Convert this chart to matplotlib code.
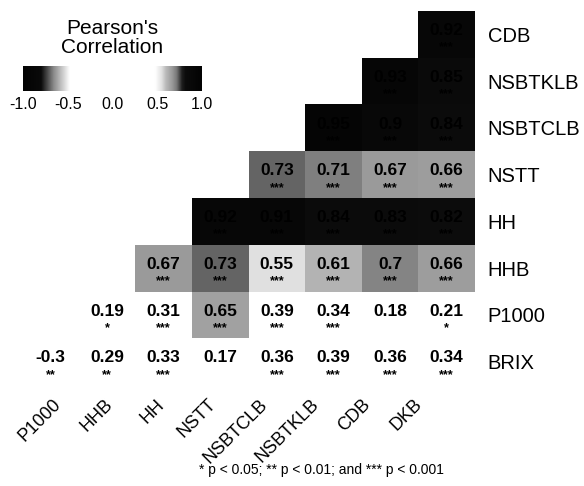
import numpy as np
import matplotlib
matplotlib.use("Agg")
import matplotlib.pyplot as plt
from matplotlib.colors import LinearSegmentedColormap, Normalize
from matplotlib.transforms import ScaledTranslation

plt.rcParams['font.family'] = ['Liberation Sans', 'DejaVu Sans']

# column / row variables of the triangle
cols = ["P1000", "HHB", "HH", "NSTT", "NSBTCLB", "NSBTKLB", "CDB", "DKB"]
rows = ["CDB", "NSBTKLB", "NSBTCLB", "NSTT", "HH", "HHB", "P1000", "BRIX"]

# correlations per row (only the filled cells, left to right)
r_cdb = [0.92]
r_nsbtklb = [0.93, 0.85]
r_nsbtclb = [0.95, 0.90, 0.84]
r_nstt = [0.73, 0.71, 0.67, 0.66]
r_hh = [0.92, 0.91, 0.84, 0.83, 0.82]
r_hhb = [0.67, 0.73, 0.55, 0.61, 0.70, 0.66]
r_p1000 = [0.19, 0.31, 0.65, 0.39, 0.34, 0.18, 0.21]
r_brix = [-0.30, 0.29, 0.33, 0.17, 0.36, 0.39, 0.36, 0.34]

# significance stars per row
s_cdb = ["***"]
s_nsbtklb = ["***", "***"]
s_nsbtclb = ["***", "***", "***"]
s_nstt = ["***", "***", "***", "***"]
s_hh = ["***", "***", "***", "***", "***"]
s_hhb = ["***", "***", "***", "***", "***", "***"]
s_p1000 = ["*", "***", "***", "***", "***", "", "*"]
s_brix = ["**", "**", "***", "", "***", "***", "***", "***"]

vals = [r_cdb, r_nsbtklb, r_nsbtclb, r_nstt, r_hh, r_hhb, r_p1000, r_brix]
stars = [s_cdb, s_nsbtklb, s_nsbtclb, s_nstt, s_hh, s_hhb, s_p1000, s_brix]

n = len(cols)
M = np.full((n, n), np.nan)
S = [["" for _ in range(n)] for _ in range(n)]
for i in range(n):
    start = n - len(vals[i])
    for k, v in enumerate(vals[i]):
        M[i, start + k] = v
        S[i][start + k] = stars[i][k]

# grey scale: white around zero, dark at both ends
nodes = [(-1.0, "#030303"), (-0.8, "#0a0a0a"), (-0.66, "#8a8a8a"), (-0.48, "#ffffff"),
         (0.48, "#ffffff"), (0.55, "#e2e2e2"), (0.6, "#bababa"), (0.67, "#9a9a9a"),
         (0.72, "#787878"), (0.78, "#1e1e1e"), (0.82, "#0c0c0c"), (1.0, "#030303")]
cmap = LinearSegmentedColormap.from_list("grey_div", [((p + 1) / 2, c) for p, c in nodes])
norm = Normalize(-1, 1)

fig = plt.figure(figsize=(5.84, 4.86), dpi=100)
W, H = 584, 486
ax = fig.add_axes([22 / W, 1 - 385 / H, 453 / W, 374 / H])
ax.pcolormesh(np.arange(n + 1), np.arange(n + 1), np.ma.masked_invalid(M),
              cmap=cmap, norm=norm, edgecolors="none")
ax.set_xlim(0, n)
ax.set_ylim(n, 0)

for i in range(n):
    for j in range(n):
        if np.isnan(M[i, j]):
            continue
        v = round(M[i, j], 2)
        ax.text(j + 0.5, i + 0.42, f"{v:g}", ha="center", va="center",
                fontsize=12.5, fontweight="bold", color="black")
        if S[i][j]:
            ax.text(j + 0.5, i + 0.78, S[i][j], ha="center", va="center",
                    fontsize=9, fontweight="bold", color="black")

for s in ax.spines.values():
    s.set_visible(False)
ax.set_yticks(np.arange(n) + 0.5)
ax.set_yticklabels(rows, fontsize=14.5)
ax.yaxis.tick_right()
ax.set_xticks(np.arange(n) + 0.5)
ax.set_xticklabels(cols, fontsize=13, rotation=45, ha="right", rotation_mode="anchor")
ax.tick_params(length=0)
ax.tick_params(axis="y", pad=9)
ax.tick_params(axis="x", pad=8)
# labels in the original drift left across the axis
for j, lab in enumerate(ax.get_xticklabels()):
    off = ScaledTranslation((2 - 5 * j) / 100, 0, fig.dpi_scale_trans)
    lab.set_transform(lab.get_transform() + off)

# legend colour bar
cax = fig.add_axes([23 / W, 1 - 91 / H, 179 / W, 25 / H])
grad = np.linspace(-1, 1, 256).reshape(1, -1)
cax.imshow(grad, aspect="auto", cmap=cmap, norm=norm, extent=[-1, 1, 0, 1])
cax.set_yticks([])
cax.set_xticks([-1, -0.5, 0, 0.5, 1])
cax.set_xticklabels(["-1.0", "-0.5", "0.0", "0.5", "1.0"], fontsize=11.5)
cax.tick_params(length=0, pad=4)
for s in cax.spines.values():
    s.set_visible(False)
fig.text(112 / W, 1 - 38 / H, "Pearson's\nCorrelation", ha="center", va="center",
         fontsize=15, linespacing=1.05)

fig.text(321 / W, 1 - 470 / H, "* p < 0.05; ** p < 0.01; and *** p < 0.001",
         ha="center", va="center", fontsize=10)

fig.savefig("out.png", dpi=100)
